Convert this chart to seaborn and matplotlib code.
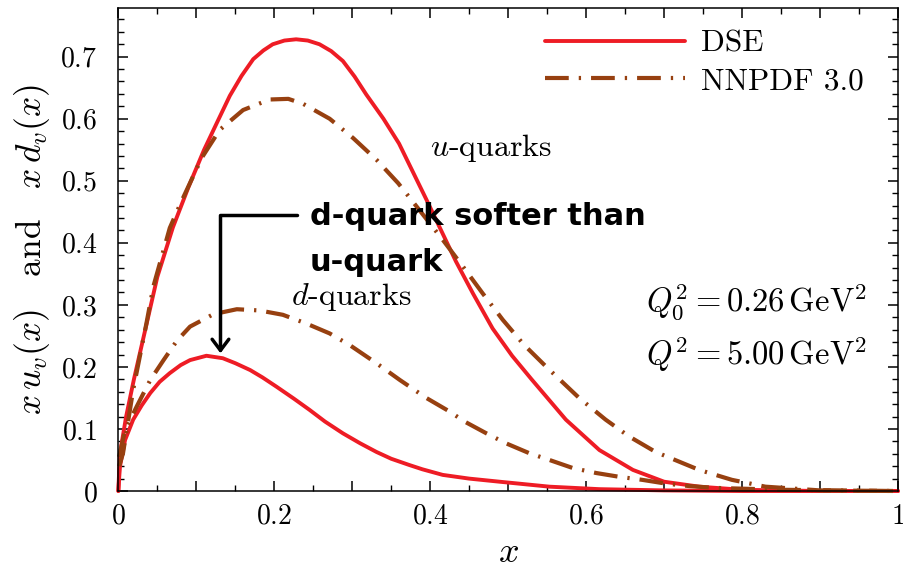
import numpy as np
import pandas as pd
import matplotlib
matplotlib.use('Agg')
import matplotlib.pyplot as plt
import seaborn as sns
from matplotlib.ticker import MultipleLocator, FuncFormatter
from matplotlib.lines import Line2D

# values
x_u_dse = [0, 0.002, 0.01, 0.02, 0.03, 0.04, 0.05, 0.07, 0.09, 0.11, 0.127, 0.143, 0.158,
           0.173, 0.186, 0.198, 0.213, 0.228, 0.243, 0.258, 0.273, 0.288, 0.303, 0.318, 0.34,
           0.36, 0.395, 0.433, 0.455, 0.48, 0.505, 0.53, 0.574, 0.617, 0.66, 0.70, 0.745,
           0.80, 0.90, 1.0]
u_dse = [0, 0.06, 0.12, 0.18, 0.235, 0.29, 0.345, 0.425, 0.49, 0.55, 0.595, 0.637, 0.669,
         0.696, 0.71, 0.72, 0.726, 0.728, 0.726, 0.72, 0.709, 0.693, 0.668, 0.639, 0.6,
         0.56, 0.47, 0.37, 0.318, 0.262, 0.218, 0.18, 0.115, 0.066, 0.034, 0.015, 0.007,
         0.002, 0.0, 0.0]

x_u_nn = [0.001, 0.006, 0.019, 0.036, 0.045, 0.066, 0.081, 0.107, 0.13, 0.16, 0.194, 0.218,
          0.237, 0.271, 0.301, 0.331, 0.359, 0.386, 0.416, 0.443, 0.467, 0.493, 0.52, 0.549,
          0.591, 0.625, 0.655, 0.689, 0.745, 0.787, 0.83, 0.9, 1.0]
u_nn = [0.04, 0.061, 0.163, 0.27, 0.33, 0.424, 0.467, 0.537, 0.582, 0.614, 0.631, 0.632,
        0.624, 0.60, 0.569, 0.534, 0.496, 0.453, 0.405, 0.36, 0.319, 0.276, 0.236, 0.2,
        0.15, 0.115, 0.088, 0.063, 0.034, 0.018, 0.007, 0.001, 0.0]

x_d_dse = [0, 0.002, 0.0086, 0.019, 0.03, 0.041, 0.053, 0.066, 0.08, 0.092, 0.113, 0.134,
           0.15, 0.169, 0.185, 0.203, 0.225, 0.245, 0.265, 0.288, 0.31, 0.331, 0.35, 0.373,
           0.39, 0.416, 0.45, 0.489, 0.553, 0.617, 0.7, 0.8, 1.0]
d_dse = [0, 0.039, 0.082, 0.115, 0.138, 0.158, 0.176, 0.19, 0.203, 0.211, 0.218, 0.214,
         0.206, 0.195, 0.183, 0.168, 0.149, 0.131, 0.112, 0.093, 0.077, 0.063, 0.052, 0.042,
         0.035, 0.026, 0.02, 0.015, 0.007, 0.003, 0.001, 0.0, 0.0]

x_d_nn = [0.001, 0.0086, 0.0235, 0.041, 0.058, 0.075, 0.092, 0.122, 0.152, 0.181, 0.211,
          0.241, 0.271, 0.297, 0.331, 0.361, 0.395, 0.425, 0.444, 0.472, 0.497, 0.527, 0.553,
          0.583, 0.613, 0.642, 0.672, 0.702, 0.732, 0.766, 0.85, 1.0]
d_nn = [0.055, 0.098, 0.136, 0.179, 0.211, 0.242, 0.265, 0.285, 0.293, 0.291, 0.284,
        0.27, 0.254, 0.235, 0.206, 0.179, 0.15, 0.128, 0.112, 0.093, 0.077, 0.061, 0.05,
        0.037, 0.029, 0.023, 0.018, 0.012, 0.008, 0.005, 0.002, 0.0]

RED = '#ee1c25'
BROWN = '#974010'
DASHDOT = (0, (5.7, 2.4, 0.55, 2.4))

sns.set_theme(style='ticks')
plt.rcParams.update({
    'font.family': 'serif',
    'font.serif': ['cmr10'],
    'mathtext.fontset': 'cm',
    'axes.unicode_minus': False,
    'axes.formatter.use_mathtext': True,
    'text.color': 'black', 'axes.labelcolor': 'black', 'axes.edgecolor': 'black',
    'xtick.color': 'black', 'ytick.color': 'black',
    'xtick.direction': 'in', 'ytick.direction': 'in',
    'xtick.top': True, 'ytick.right': True,
    'axes.linewidth': 1.1,
})

fig = plt.figure(figsize=(9.04, 5.67), dpi=100)
ax = fig.add_axes([0.1309, 0.134, 0.8625, 0.8514])

for xs, ys in [(x_u_dse, u_dse), (x_d_dse, d_dse)]:
    sns.lineplot(x=xs, y=ys, color=RED, lw=2.8, ax=ax, clip_on=False, legend=False)
for xs, ys in [(x_u_nn, u_nn), (x_d_nn, d_nn)]:
    sns.lineplot(x=xs, y=ys, color=BROWN, lw=3.0, ax=ax, clip_on=False, legend=False)
    ax.lines[-1].set_linestyle(DASHDOT)

ax.set_xlim(0, 1)
ax.set_ylim(0, 0.778)

ax.xaxis.set_major_locator(MultipleLocator(0.1))
ax.xaxis.set_minor_locator(MultipleLocator(0.05))
ax.yaxis.set_major_locator(MultipleLocator(0.1))
ax.yaxis.set_minor_locator(MultipleLocator(0.02))

def xfmt(v, pos):
    k = int(round(v * 10))
    if k % 2:
        return ''
    return '$%g$' % round(v, 2)

ax.xaxis.set_major_formatter(FuncFormatter(xfmt))
ax.yaxis.set_major_formatter(FuncFormatter(lambda v, p: '$%g$' % round(v, 2)))
ax.tick_params(which='major', length=7, width=1.1, labelsize=20)
ax.tick_params(which='minor', length=4, width=1.0)
ax.tick_params(axis='x', pad=9)
ax.tick_params(axis='y', pad=15)

ax.set_ylabel(r'$x\,u_v(x)\quad\mathrm{and}\quad x\,d_v(x)$', fontsize=25.5)
ax.yaxis.set_label_coords(-0.085, 0.5)
ax.set_xlabel(r'$x$', fontsize=26)
ax.xaxis.set_label_coords(0.5, -0.095)

handles = [Line2D([], [], color=RED, lw=2.8),
           Line2D([], [], color=BROWN, lw=3.0, linestyle=DASHDOT)]
ax.legend(handles, ['DSE', 'NNPDF 3.0'], loc='upper left', bbox_to_anchor=(0.547, 0.955),
          frameon=False, fontsize=22.5, handlelength=4.5, handletextpad=0.5,
          labelspacing=0.3, borderpad=0, borderaxespad=0)

ax.text(0.4, 0.553, r'$u$-quarks', fontsize=23, va='center')
ax.text(0.222, 0.313, r'$d$-quarks', fontsize=23, va='center')
ax.text(0.96, 0.304, r'$Q_0^2 = 0.26\,\mathrm{GeV}^2$', fontsize=23.5, ha='right', va='center')
ax.text(0.96, 0.22, r'$Q^2 = 5.00\,\mathrm{GeV}^2$', fontsize=23.5, ha='right', va='center')

ax.text(0.2455, 0.442, 'd-quark softer than', fontsize=22, fontweight='bold',
        family='DejaVu Sans', va='center')
ax.text(0.2455, 0.369, 'u-quark', fontsize=22, fontweight='bold',
        family='DejaVu Sans', va='center')
ax.annotate('', xy=(0.131, 0.222), xytext=(0.229, 0.445),
            arrowprops=dict(arrowstyle='->,head_length=0.4,head_width=0.3',
                            connectionstyle='angle,angleA=0,angleB=90,rad=0',
                            lw=2.5, color='black', shrinkA=0, shrinkB=0,
                            mutation_scale=20))

fig.savefig('out.png', dpi=100)
